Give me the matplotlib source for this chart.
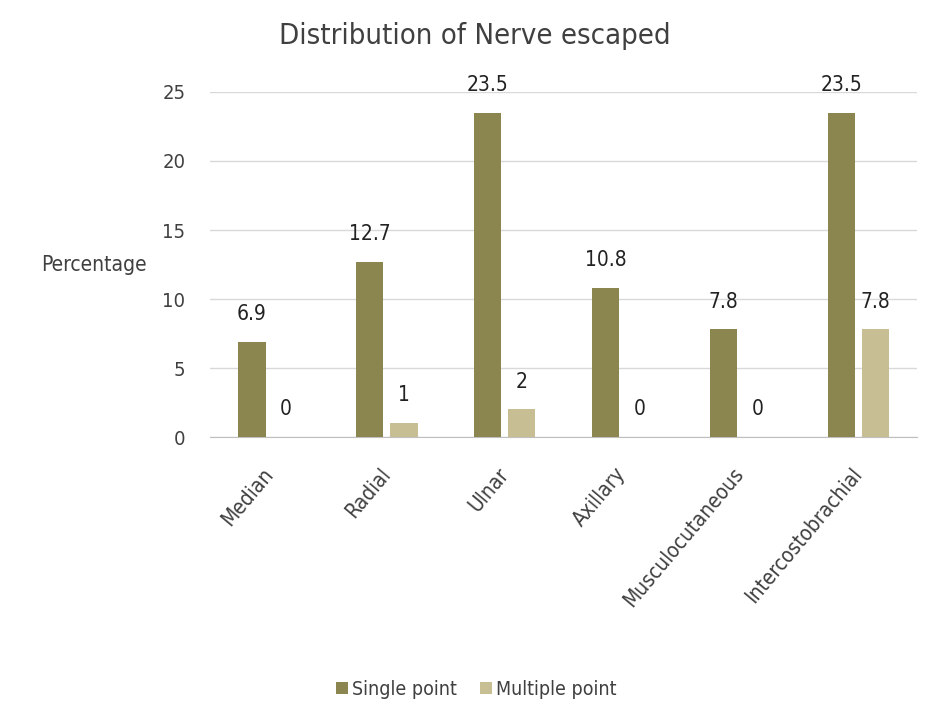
import matplotlib
matplotlib.use('Agg')
import matplotlib.pyplot as plt
import numpy as np

nerves = ['Median', 'Radial', 'Ulnar', 'Axillary', 'Musculocutaneous', 'Intercostobrachial']
single_point = [6.9, 12.7, 23.5, 10.8, 7.8, 23.5]
multiple_point = [0, 1, 2, 0, 0, 7.8]
yticks = [0, 5, 10, 15, 20, 25]

plt.rcParams['font.family'] = ['DejaVu Sans']
plt.rcParams['font.stretch'] = 'condensed'
text_color = '#404040'

fig = plt.figure(figsize=(9.34, 7.13), dpi=100)
ax = fig.add_axes([0.225, 0.387, 0.757, 0.484])

x = np.arange(len(nerves))
w = 0.23
off = 0.145
b1 = ax.bar(x - off, single_point, w, color='#8b8550', label='Single point', zorder=3)
b2 = ax.bar(x + off, multiple_point, w, color='#c7be93', label='Multiple point', zorder=3)

# value labels above each bar
for bars, vals in ((b1, single_point), (b2, multiple_point)):
    for bar, v in zip(bars, vals):
        ax.annotate(f'{v:g}', (bar.get_x() + bar.get_width() / 2, v),
                    xytext=(0, 20), textcoords='offset points',
                    ha='center', va='center', fontsize=15, color='#222222',
                    annotation_clip=False)

ax.set_xlim(-0.5, len(nerves) - 0.5)
ax.set_ylim(0, 25)
ax.set_yticks(yticks)
ax.set_yticklabels([str(t) for t in yticks], fontsize=14.5, color=text_color)
ax.set_xticks(x)
ax.set_xticklabels(nerves, rotation=50, ha='right', va='center', rotation_mode='anchor',
                   fontsize=15, color=text_color)
ax.tick_params(axis='y', length=0, pad=18)
ax.tick_params(axis='x', length=0, pad=24)

ax.grid(axis='y', color='#d9d9d9', linewidth=1, zorder=0)
for s in ['top', 'right', 'left']:
    ax.spines[s].set_visible(False)
ax.spines['bottom'].set_color('#bfbfbf')

ax.set_ylabel('Percentage', rotation=0, fontsize=15, color=text_color, va='center')
ax.yaxis.set_label_coords(-0.165, 0.50)

fig.text(0.508, 0.95, 'Distribution of Nerve escaped', ha='center', va='center',
         fontsize=21, color=text_color)

fig.legend(handles=[b1, b2], loc='center', bbox_to_anchor=(0.51, 0.033), ncol=2,
           frameon=False, fontsize=14, handlelength=0.6, handleheight=0.6,
           columnspacing=1.2, handletextpad=0.2, labelcolor=text_color)

fig.savefig('out.png', dpi=100)
